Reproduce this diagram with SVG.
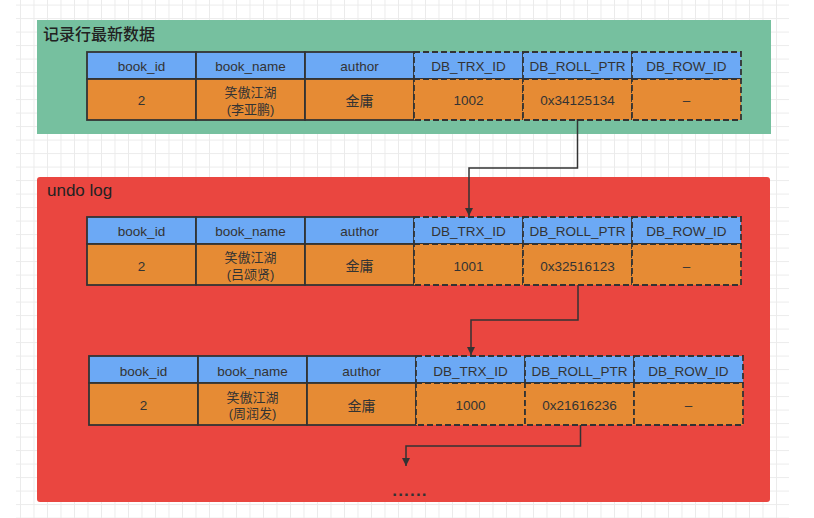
<svg xmlns="http://www.w3.org/2000/svg" width="814" height="518" viewBox="0 0 814 518">
<defs>
<pattern id="grid" patternUnits="userSpaceOnUse" x="6.5" y="4.6" width="13.5" height="13.5">
<path d="M0.5,0 V13.5 M0,0.5 H13.5" fill="none" stroke="#EBEBEB" stroke-width="1"/>
</pattern>
<marker id="arr" viewBox="0 0 10 10" refX="10" refY="5" markerWidth="8" markerHeight="8" markerUnits="userSpaceOnUse" orient="auto">
<path d="M0,0 L10,5 L0,10 Z" fill="#333"/>
</marker>
<style>
.hd{fill:#6CA9F5;}
.dt{fill:#E68B34;}
.solid{stroke:#333;stroke-width:1.8;}
.dash{stroke:#333;stroke-width:1.8;stroke-dasharray:6 3;}
text{font-family:"Liberation Sans","Noto Sans CJK SC",sans-serif;fill:#333;text-anchor:middle;}
.h{font-size:13.5px;}
.d{font-size:13.5px;}
.cn{font-size:13px;}
.title{font-size:16px;text-anchor:start;fill:#222;}
.conn{fill:none;stroke:#333;stroke-width:1.5;}
</style>
</defs>
<rect x="0" y="0" width="814" height="518" fill="#fff"/>
<rect x="16" y="0" width="773" height="518" fill="url(#grid)"/>

<g id="latest">
<rect x="37" y="20" width="734" height="114" fill="#76C09F"/>
<text class="title" x="43" y="39.5" style="font-weight:500;font-family:'Noto Sans CJK SC',sans-serif">记录行最新数据</text>
</g>

<g id="undolog">
<rect x="37" y="177" width="733" height="325" rx="3" fill="#EA4640"/>
<text class="title" x="47" y="196" style="font-size:17px">undo log</text>
</g>

<g id="row-latest" transform="translate(87,52)">
<rect class="hd solid" x="0" y="0" width="109" height="27"/>
<rect class="hd solid" x="109" y="0" width="109" height="27"/>
<rect class="hd solid" x="218" y="0" width="109" height="27"/>
<rect class="dt solid" x="0" y="27" width="109" height="41"/>
<rect class="dt solid" x="109" y="27" width="109" height="41"/>
<rect class="dt solid" x="218" y="27" width="109" height="41"/>
<rect class="hd dash" x="327" y="0" width="109" height="27"/>
<rect class="hd dash" x="436" y="0" width="109" height="27"/>
<rect class="hd dash" x="545" y="0" width="109" height="27"/>
<rect class="dt dash" x="327" y="27" width="109" height="41"/>
<rect class="dt dash" x="436" y="27" width="109" height="41"/>
<rect class="dt dash" x="545" y="27" width="109" height="41"/>
<text class="h" x="54.5" y="19">book_id</text>
<text class="h" x="163.5" y="19">book_name</text>
<text class="h" x="272.5" y="19">author</text>
<text class="h" x="381.5" y="19">DB_TRX_ID</text>
<text class="h" x="490.5" y="19">DB_ROLL_PTR</text>
<text class="h" x="599.5" y="19">DB_ROW_ID</text>
<text class="d" x="54.5" y="53">2</text>
<text class="cn" x="163.5" y="44.5">笑傲江湖</text>
<text class="cn" x="163.5" y="61.5">(李亚鹏)</text>
<text class="d" x="272.5" y="53.5" style="font-size:14px">金庸</text>
<text class="d" x="381.5" y="53">1002</text>
<text class="d" x="490.5" y="53">0x34125134</text>
<text class="d" x="599.5" y="53">–</text>
</g>

<g id="row-1001" transform="translate(87,217)">
<rect class="hd solid" x="0" y="0" width="109" height="27"/>
<rect class="hd solid" x="109" y="0" width="109" height="27"/>
<rect class="hd solid" x="218" y="0" width="109" height="27"/>
<rect class="dt solid" x="0" y="27" width="109" height="41"/>
<rect class="dt solid" x="109" y="27" width="109" height="41"/>
<rect class="dt solid" x="218" y="27" width="109" height="41"/>
<rect class="hd dash" x="327" y="0" width="109" height="27"/>
<rect class="hd dash" x="436" y="0" width="109" height="27"/>
<rect class="hd dash" x="545" y="0" width="109" height="27"/>
<rect class="dt dash" x="327" y="27" width="109" height="41"/>
<rect class="dt dash" x="436" y="27" width="109" height="41"/>
<rect class="dt dash" x="545" y="27" width="109" height="41"/>
<text class="h" x="54.5" y="19">book_id</text>
<text class="h" x="163.5" y="19">book_name</text>
<text class="h" x="272.5" y="19">author</text>
<text class="h" x="381.5" y="19">DB_TRX_ID</text>
<text class="h" x="490.5" y="19">DB_ROLL_PTR</text>
<text class="h" x="599.5" y="19">DB_ROW_ID</text>
<text class="d" x="54.5" y="53.5">2</text>
<text class="cn" x="163.5" y="45">笑傲江湖</text>
<text class="cn" x="163.5" y="61.5">(吕颂贤)</text>
<text class="d" x="272.5" y="54" style="font-size:14px">金庸</text>
<text class="d" x="381.5" y="53.5">1001</text>
<text class="d" x="490.5" y="53.5">0x32516123</text>
<text class="d" x="599.5" y="53.5">–</text>
</g>

<g id="row-1000" transform="translate(89,356)">
<rect class="hd solid" x="0" y="0" width="109" height="27"/>
<rect class="hd solid" x="109" y="0" width="109" height="27"/>
<rect class="hd solid" x="218" y="0" width="109" height="27"/>
<rect class="dt solid" x="0" y="27" width="109" height="42"/>
<rect class="dt solid" x="109" y="27" width="109" height="42"/>
<rect class="dt solid" x="218" y="27" width="109" height="42"/>
<rect class="hd dash" x="327" y="0" width="109" height="27"/>
<rect class="hd dash" x="436" y="0" width="109" height="27"/>
<rect class="hd dash" x="545" y="0" width="109" height="27"/>
<rect class="dt dash" x="327" y="27" width="109" height="42"/>
<rect class="dt dash" x="436" y="27" width="109" height="42"/>
<rect class="dt dash" x="545" y="27" width="109" height="42"/>
<text class="h" x="54.5" y="19.5">book_id</text>
<text class="h" x="163.5" y="19.5">book_name</text>
<text class="h" x="272.5" y="19.5">author</text>
<text class="h" x="381.5" y="19.5">DB_TRX_ID</text>
<text class="h" x="490.5" y="19.5">DB_ROLL_PTR</text>
<text class="h" x="599.5" y="19.5">DB_ROW_ID</text>
<text class="d" x="54.5" y="54">2</text>
<text class="cn" x="163.5" y="45.5">笑傲江湖</text>
<text class="cn" x="163.5" y="62">(周润发)</text>
<text class="d" x="272.5" y="54.5" style="font-size:14px">金庸</text>
<text class="d" x="381.5" y="54">1000</text>
<text class="d" x="490.5" y="54">0x21616236</text>
<text class="d" x="599.5" y="54">–</text>
</g>

<g id="more">
<text x="410" y="496" style="font-size:17px;font-weight:bold;letter-spacing:1.2px">......</text>
</g>

<g id="connectors">
<path class="conn" d="M577.5,119 V168 H469 V216" marker-end="url(#arr)"/>
<path class="conn" d="M578,285 V320 H471 V355" marker-end="url(#arr)"/>
<path class="conn" d="M580.5,425 V446 H406 V466" marker-end="url(#arr)"/>
</g>
</svg>
